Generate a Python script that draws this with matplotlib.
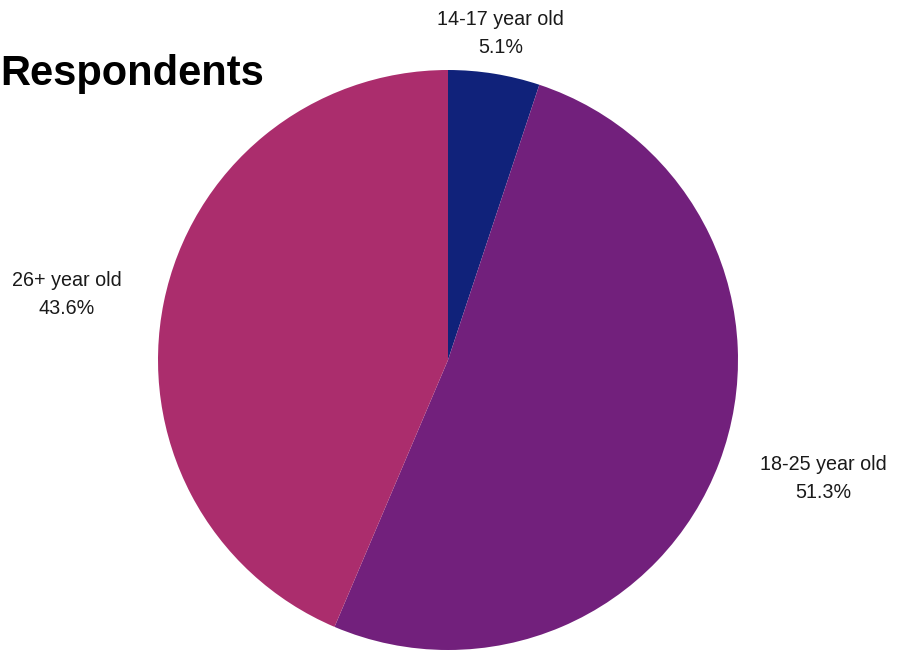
import numpy as np
import matplotlib.pyplot as plt

plt.rcParams['font.family'] = ['Liberation Sans', 'DejaVu Sans']

# data
labels = ['14-17 year old', '18-25 year old', '26+ year old']
shares = [5.1, 51.3, 43.6]
colors = ['#10227a', '#72207c', '#ab2d6d']

# label placement: distance from centre (in radii) and angle nudge (deg)
label_dist = [1.14, 1.356, 1.333]
label_nudge = [0.0, 3.2, 1.7]

fig = plt.figure(figsize=(9.03, 6.5), dpi=100)
ax = fig.add_axes([158 / 903, 0, 580 / 903, 580 / 650])

wedges, _ = ax.pie(shares, colors=colors, startangle=90, counterclock=False,
                   radius=1, wedgeprops=dict(linewidth=0))
ax.set_xlim(-1, 1)
ax.set_ylim(-1, 1)
ax.set_aspect('equal')
ax.axis('off')

# labels outside the slices
for w, lab, val, d, nd in zip(wedges, labels, shares, label_dist, label_nudge):
    ang = np.deg2rad((w.theta1 + w.theta2) / 2 + nd)
    ax.text(d * np.cos(ang), d * np.sin(ang), f'{lab}\n{val:.1f}%',
            ha='center', va='center', fontsize=14.2, linespacing=1.6,
            color='#1a1a1a', clip_on=False)

fig.text(0.0005, (650 - 85) / 650, 'Respondents', fontsize=30,
         fontweight='bold', ha='left', va='baseline')

fig.savefig('out.png', dpi=100, facecolor='white')
